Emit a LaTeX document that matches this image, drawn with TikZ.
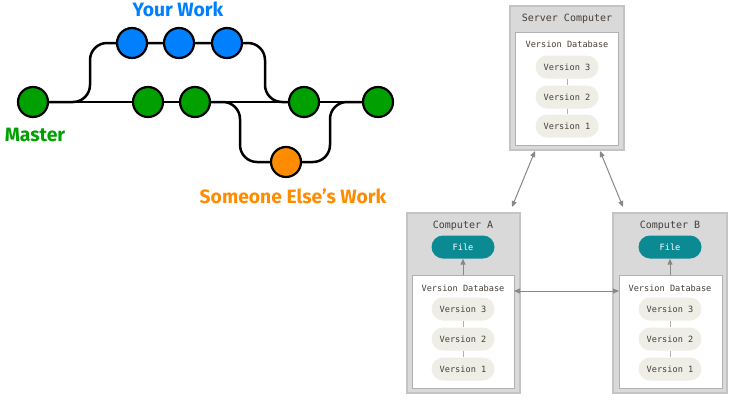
\documentclass[tikz,border=0pt]{standalone}
\usepackage{fontspec}
\setsansfont{Fira Sans}
\setmonofont{DejaVu Sans Mono}
\usetikzlibrary{arrows.meta,backgrounds}
\definecolor{gblue}{RGB}{0,128,255}
\definecolor{ggreen}{RGB}{0,160,0}
\definecolor{gorange}{RGB}{255,140,0}
\definecolor{boxgray}{RGB}{217,217,217}
\definecolor{boxline}{RGB}{196,196,196}
\definecolor{innerline}{RGB}{176,176,176}
\definecolor{pillfill}{RGB}{239,238,230}
\definecolor{teal}{RGB}{11,138,148}
\definecolor{txtgray}{RGB}{70,62,56}
\definecolor{arrgray}{RGB}{140,135,130}
\tikzset{
  commit/.style={circle, draw=black, line width=2.2pt, minimum size=30pt, inner sep=0pt},
  branch/.style={draw=black, line width=2.5pt, rounded corners=17pt},
  lbl/.style={font=\sffamily\bfseries\fontsize{19.3}{19.3}\selectfont},
  outerbox/.style={fill=boxgray, draw=boxline, line width=1.2pt, anchor=north west, inner sep=0pt, outer sep=0pt},
  innerbox/.style={fill=white, draw=innerline, line width=1pt, anchor=north west, inner sep=0pt, outer sep=0pt},
  pill/.style={fill=pillfill, rounded corners=11.5pt, minimum width=63pt, minimum height=23pt, inner sep=0pt, font=\ttfamily\fontsize{8.6}{8.6}\selectfont, text=txtgray},
  filepill/.style={fill=teal, rounded corners=11.5pt, minimum width=63pt, minimum height=23pt, inner sep=0pt, font=\ttfamily\fontsize{8.6}{8.6}\selectfont, text=white},
  title/.style={font=\ttfamily\fontsize{10}{10}\selectfont, text=txtgray},
  dbtitle/.style={font=\ttfamily\fontsize{8.6}{8.6}\selectfont, text=txtgray},
  vlink/.style={draw=innerline, line width=1pt},
  garrow/.style={draw=arrgray, line width=1pt, {Triangle[length=6pt,width=5pt]}-{Triangle[length=6pt,width=5pt]}},
  uparrow/.style={draw=arrgray, line width=1pt, -{Triangle[length=6pt,width=5pt]}},
}
\begin{document}
\begin{tikzpicture}[x=1pt,y=-1pt]
\useasboundingbox (0,0) rectangle (734,400);
% ---------- left: branching ----------
\node[commit, fill=ggreen] (m0) at (33,102) {};
\node[commit, fill=ggreen] (g1) at (148,102) {};
\node[commit, fill=ggreen] (g2) at (195,102) {};
\node[commit, fill=ggreen] (g3) at (304,102) {};
\node[commit, fill=ggreen] (g4) at (378,102) {};
\node[commit, fill=gblue] (b1) at (132,43) {};
\node[commit, fill=gblue] (b2) at (179,43) {};
\node[commit, fill=gblue] (b3) at (227,43) {};
\node[commit, fill=gorange] (o1) at (286,162) {};
\begin{scope}[on background layer]
\draw[branch] (m0) -- (g4);
\draw[branch] (m0) -| ([xshift=-42pt]b1.center) -- (b3);
\draw[branch] (b3) -| ([xshift=-39pt]g3.center) -- (g3);
\draw[branch] (g2) -| ([xshift=-46pt]o1.center) -- (o1);
\draw[branch] (o1) -| ([xshift=-48pt]g4.center) -- (g4);
\end{scope}
\node[lbl, text=gblue] (lyw) at (178,9) {Your Work};
\node[lbl, text=ggreen] (lm) at (35,135) {Master};
\node[lbl, text=gorange] (lse) at (293,196) {Someone Else’s Work};
% ---------- right: server ----------
\node[outerbox, minimum width=114pt, minimum height=144pt] (srv) at (510,6) {};
\node[title] (srvt) at (567,19) {Server Computer};
\node[innerbox, minimum width=103pt, minimum height=113pt] (sdb) at (515,32) {};
\node[dbtitle] (sdbt) at (567,44) {Version Database};
\node[pill] (s3) at (567,67) {Version 3};
\node[pill] (s2) at (567,97) {Version 2};
\node[pill] (s1) at (567,126) {Version 1};
\draw[vlink] (s3) -- (s2);
\draw[vlink] (s2) -- (s1);
% ---------- computer A ----------
\node[outerbox, minimum width=113pt, minimum height=180pt] (ca) at (407,213) {};
\node[title] (cat) at (463,226) {Computer A};
\node[filepill] (fa) at (463,247) {File};
\node[innerbox, minimum width=102pt, minimum height=113pt] (adb) at (412,275) {};
\node[dbtitle] (adbt) at (463,288) {Version Database};
\node[pill] (a3) at (463,309) {Version 3};
\node[pill] (a2) at (463,339) {Version 2};
\node[pill] (a1) at (463,369) {Version 1};
\draw[vlink] (a3) -- (a2);
\draw[vlink] (a2) -- (a1);
\draw[uparrow] (adb.north -| fa) -- (fa);
% ---------- computer B ----------
\node[outerbox, minimum width=114pt, minimum height=180pt] (cb) at (613,213) {};
\node[title] (cbt) at (670,226) {Computer B};
\node[filepill] (fb) at (670,247) {File};
\node[innerbox, minimum width=103pt, minimum height=113pt] (bdb) at (619,275) {};
\node[dbtitle] (bdbt) at (670,288) {Version Database};
\node[pill] (b3v) at (670,309) {Version 3};
\node[pill] (b2v) at (670,339) {Version 2};
\node[pill] (b1v) at (670,369) {Version 1};
\draw[vlink] (b3v) -- (b2v);
\draw[vlink] (b2v) -- (b1v);
\draw[uparrow] (bdb.north -| fb) -- (fb);
% ---------- arrows ----------
\draw[garrow] ([xshift=25pt,yshift=-1pt]srv.south west) -- ([shift={(-8pt,6pt)}]ca.north east);
\draw[garrow] ([xshift=-24pt,yshift=-1pt]srv.south east) -- ([shift={(10pt,6pt)}]cb.north west);
\draw[garrow] ([yshift=-16pt]adb.north east) -- ([yshift=-16pt]bdb.north west);
\end{tikzpicture}
\end{document}
